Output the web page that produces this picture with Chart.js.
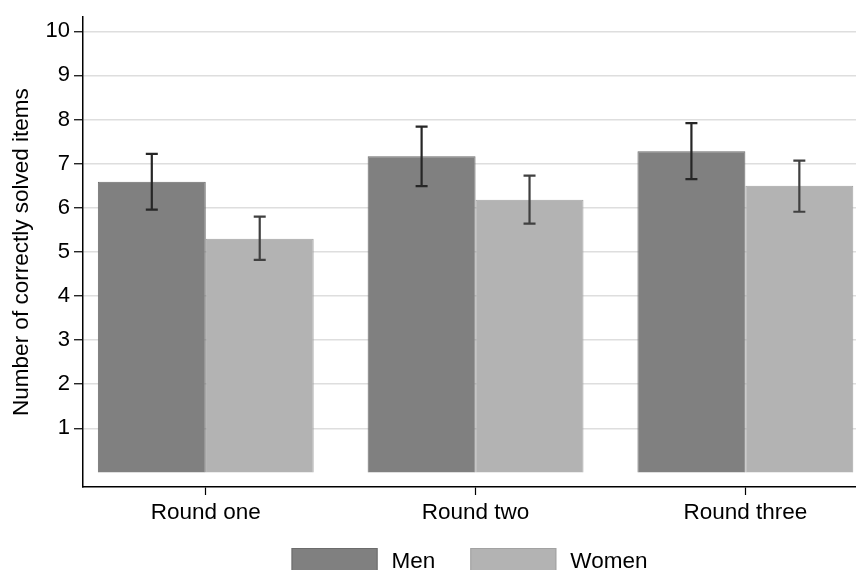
<!DOCTYPE html>
<html>
<head>
<meta charset="utf-8">
<script src="https://cdn.jsdelivr.net/npm/chart.js@4/dist/chart.umd.min.js"></script>
<style>
  html, body { margin: 0; padding: 0; background: #fff; }
  #wrap { width: 856px; height: 570px; position: relative; }
</style>
</head>
<body>
<div id="wrap"><canvas id="c"></canvas></div>
<script>
// Mean number of correctly solved items per round, with confidence intervals
const categories = ['Round one', 'Round two', 'Round three'];
const men = [6.59, 7.17, 7.28];
const women = [5.30, 6.18, 6.50];
const menLow = [5.96, 6.49, 6.65];
const menHigh = [7.22, 7.84, 7.92];
const womenLow = [4.82, 5.64, 5.91];
const womenHigh = [5.80, 6.73, 7.07];
const yTicks = [1, 2, 3, 4, 5, 6, 7, 8, 9, 10];

const FONT = '"Liberation Sans", Arial, Helvetica, sans-serif';
const positions = categories.map((c, i) => i + 1);

const toPoints = (vals) => vals.map((v, i) => ({ x: positions[i], y: v }));

// Whiskers with end caps on top of each bar
const errorBars = {
  id: 'errorBars',
  afterDatasetsDraw(chart) {
    const ctx = chart.ctx;
    const y = chart.scales.y;
    chart.data.datasets.forEach((ds, d) => {
      const meta = chart.getDatasetMeta(d);
      ctx.save();
      ctx.strokeStyle = ds.errorColor;
      ctx.lineWidth = 2.2;
      meta.data.forEach((bar, i) => {
        const x = bar.x;
        const yl = y.getPixelForValue(ds.errLow[i]);
        const yh = y.getPixelForValue(ds.errHigh[i]);
        ctx.beginPath();
        ctx.moveTo(x, yl); ctx.lineTo(x, yh);
        ctx.moveTo(x - 6, yl); ctx.lineTo(x + 6, yl);
        ctx.moveTo(x - 6, yh); ctx.lineTo(x + 6, yh);
        ctx.stroke();
      });
      ctx.restore();
    });
  }
};

// Legend row under the axis: wide swatches followed by the series name
const swatchLegend = {
  id: 'swatchLegend',
  afterDraw(chart) {
    const ctx = chart.ctx;
    const ca = chart.chartArea;
    ctx.save();
    ctx.font = '22.5px ' + FONT;
    const boxW = 86, boxH = 32, gap = 14, itemGap = 35;
    const items = chart.data.datasets.map(ds => ({
      label: ds.label, fill: ds.backgroundColor, stroke: ds.borderColor,
      w: ctx.measureText(ds.label).width
    }));
    let total = 0;
    items.forEach((it, k) => { total += boxW + gap + it.w + (k ? itemGap : 0); });
    let x = (ca.left + ca.right) / 2 - total / 2;
    const top = ca.bottom + 61;
    items.forEach(it => {
      ctx.fillStyle = it.fill;
      ctx.fillRect(x, top, boxW, boxH);
      ctx.strokeStyle = it.stroke;
      ctx.lineWidth = 1;
      ctx.strokeRect(x + 0.5, top + 0.5, boxW - 1, boxH - 1);
      ctx.fillStyle = '#000';
      ctx.textBaseline = 'alphabetic';
      ctx.textAlign = 'left';
      ctx.fillText(it.label, x + boxW + gap, top + 20);
      x += boxW + gap + it.w + itemGap;
    });
    ctx.restore();
  }
};

new Chart(document.getElementById('c'), {
  type: 'bar',
  data: {
    datasets: [
      {
        label: 'Men',
        data: toPoints(men),
        backgroundColor: '#808080',
        borderColor: '#6c6c6c',
        borderWidth: 1,
        errLow: menLow, errHigh: menHigh, errorColor: '#262626'
      },
      {
        label: 'Women',
        data: toPoints(women),
        backgroundColor: '#b3b3b3',
        borderColor: '#a2a2a2',
        borderWidth: 1,
        errLow: womenLow, errHigh: womenHigh, errorColor: '#404040'
      }
    ]
  },
  options: {
    responsive: true,
    maintainAspectRatio: false,
    animation: false,
    categoryPercentage: 0.8,
    barPercentage: 1.0,
    layout: { padding: { top: 15, left: 0, right: 0, bottom: 0 } },
    plugins: {
      legend: { display: false },
      tooltip: { enabled: false }
    },
    scales: {
      x: {
        type: 'linear',
        offset: false,
        min: 0.545,
        max: 3.41,
        afterBuildTicks(scale) { scale.ticks = positions.map(v => ({ value: v })); },
        afterFit(scale) { scale.height = 83; },
        grid: {
          offset: false,
          drawOnChartArea: false,
          drawTicks: true,
          tickLength: 8,
          color: '#000',
          tickColor: '#000',
          tickWidth: 1.2
        },
        border: { display: true, color: '#000', width: 1.5 },
        ticks: {
          autoSkip: false,
          maxRotation: 0,
          padding: 4,
          color: '#000',
          font: { family: FONT, size: 22.5 },
          callback: (v) => categories[Math.round(v) - 1] || ''
        }
      },
      y: {
        min: -0.33,
        max: 10.32,
        afterBuildTicks(scale) { scale.ticks = yTicks.map(v => ({ value: v })); },
        afterFit(scale) { scale.width = 83; },
        grid: {
          color: '#dedede',
          lineWidth: 1.5,
          drawTicks: true,
          tickLength: 9,
          tickColor: '#000',
          tickWidth: 1.2
        },
        border: { display: true, color: '#000', width: 1.5 },
        ticks: {
          padding: 4,
          color: '#000',
          font: { family: FONT, size: 22 }
        },
        title: {
          display: true,
          text: 'Number of correctly solved items',
          color: '#000',
          font: { family: FONT, size: 22.5 },
          padding: { top: 8, bottom: 0 }
        }
      }
    }
  },
  plugins: [errorBars, swatchLegend]
});
</script>
</body>
</html>
